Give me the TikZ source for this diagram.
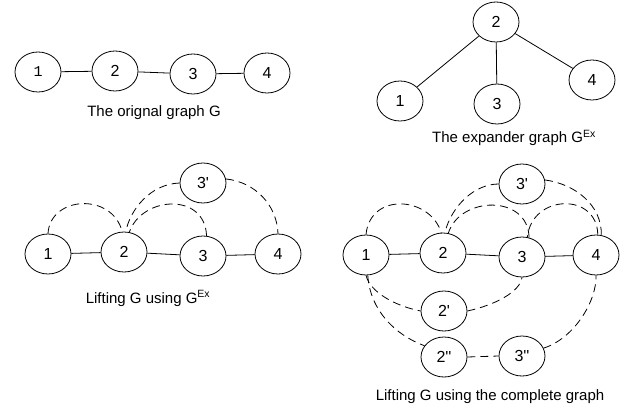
\documentclass[tikz,border=0pt]{standalone}
\usepackage{fontspec}
\setmainfont{Liberation Sans}
\newfontfamily\nodefont{Liberation Sans}
\newfontfamily\monofont{Liberation Mono}
\usetikzlibrary{shapes.geometric}
\tikzset{
  vtx/.style={draw, ellipse, line width=0.8pt, minimum width=46pt, minimum height=40pt, inner sep=0pt, font=\nodefont\fontsize{16}{18}\selectfont},
  solid edge/.style={line width=0.8pt},
  lift/.style={line width=0.8pt, dash pattern=on 8pt off 5pt},
  lbl/.style={anchor=base, inner sep=0pt, font=\fontsize{15}{17}\selectfont}
}
\begin{document}
\begin{tikzpicture}[x=1pt,y=1pt]
\useasboundingbox (0,0) rectangle (636,410);
\fill[white] (0,0) rectangle (636,410);
% original graph
\node[vtx] (a1) at (38,338) {\monofont\fontsize{15}{17}\selectfont 1};
\node[vtx] (a2) at (115,339) {2};
\node[vtx] (a3) at (193,336) {3};
\node[vtx] (a4) at (267,337) {4};
\draw[solid edge] (a1) -- (a2);
\draw[solid edge] (a2) -- (a3);
\draw[solid edge] (a3) -- (a4);
\node[lbl] (l1) at (154,293) {The orignal graph G};
% expander graph
\node[vtx] (b2) at (496,388) {2};
\node[vtx] (b1) at (400,309) {1};
\node[vtx] (b3) at (497,306) {3};
\node[vtx] (b4) at (592,330) {4};
\draw[solid edge] (b2) -- (b1);
\draw[solid edge] (b2) -- (b3);
\draw[solid edge] (b2) -- (b4);
\node[lbl] (l2) at (514,267) {The expander graph G\textsuperscript{Ex}};
% lifting with expander
\node[vtx] (c1) at (48,156) {1};
\node[vtx] (c2) at (124,158) {2};
\node[vtx] (c3) at (203,154) {3};
\node[vtx] (c4) at (278,156) {4};
\node[vtx] (c3p) at (203,227) {3'};
\draw[solid edge] (c1) -- (c2);
\draw[solid edge] (c2) -- (c3);
\draw[solid edge] (c3) -- (c4);
\draw[lift] (c1.90) .. controls (50,214) and (112,218) .. (c2.95);
\draw[lift] (c3p.180) .. controls (150,226) and (130,200) .. (c2.85);
\draw[lift] (c3.80) .. controls (205,218) and (142,214) .. (c2.75);
\draw[lift] (c3p.10) .. controls (255,228) and (277,205) .. (c4.90);
\node[lbl] (l3) at (148,107) {Lifting G using G\textsuperscript{Ex}};
% lifting with complete graph
\node[vtx] (d1) at (366,155) {1};
\node[vtx] (d2) at (443,157) {2};
\node[vtx] (d3) at (522,153) {3};
\node[vtx] (d4) at (596,155) {4};
\node[vtx] (d3p) at (522,226) {3'};
\node[vtx] (d2p) at (444,99) {2'};
\node[vtx] (d2pp) at (444,53) {2''};
\node[vtx] (d3pp) at (522,54) {3''};
\draw[solid edge] (d1) -- (d2);
\draw[solid edge] (d2) -- (d3);
\draw[solid edge] (d3) -- (d4);
\draw[lift] (d1.90) .. controls (370,218) and (430,214) .. (d2.95);
\draw[lift] (d3p.180) .. controls (475,226) and (452,205) .. (d2.85);
\draw[lift] (d3.70) .. controls (528,216) and (460,214) .. (d2.75);
\draw[lift] (d4.85) .. controls (597,218) and (532,216) .. (d3.75);
\draw[lift] (d3p.10) .. controls (575,226) and (602,205) .. (d4.75);
\draw[lift] (d1.-90) .. controls (370,118) and (395,104) .. (d2p.180);
\draw[lift] (d2p.0) .. controls (495,105) and (520,118) .. (d3.-90);
\draw[lift] (d1.-85) .. controls (370,100) and (395,75) .. (d2pp.150);
\draw[lift] (d2pp.0) -- (d3pp.180);
\draw[lift] (d3pp.20) .. controls (575,72) and (597,110) .. (d4.-90);
\node[lbl] (l4) at (490,10) {Lifting G using the complete graph};
\end{tikzpicture}
\end{document}
